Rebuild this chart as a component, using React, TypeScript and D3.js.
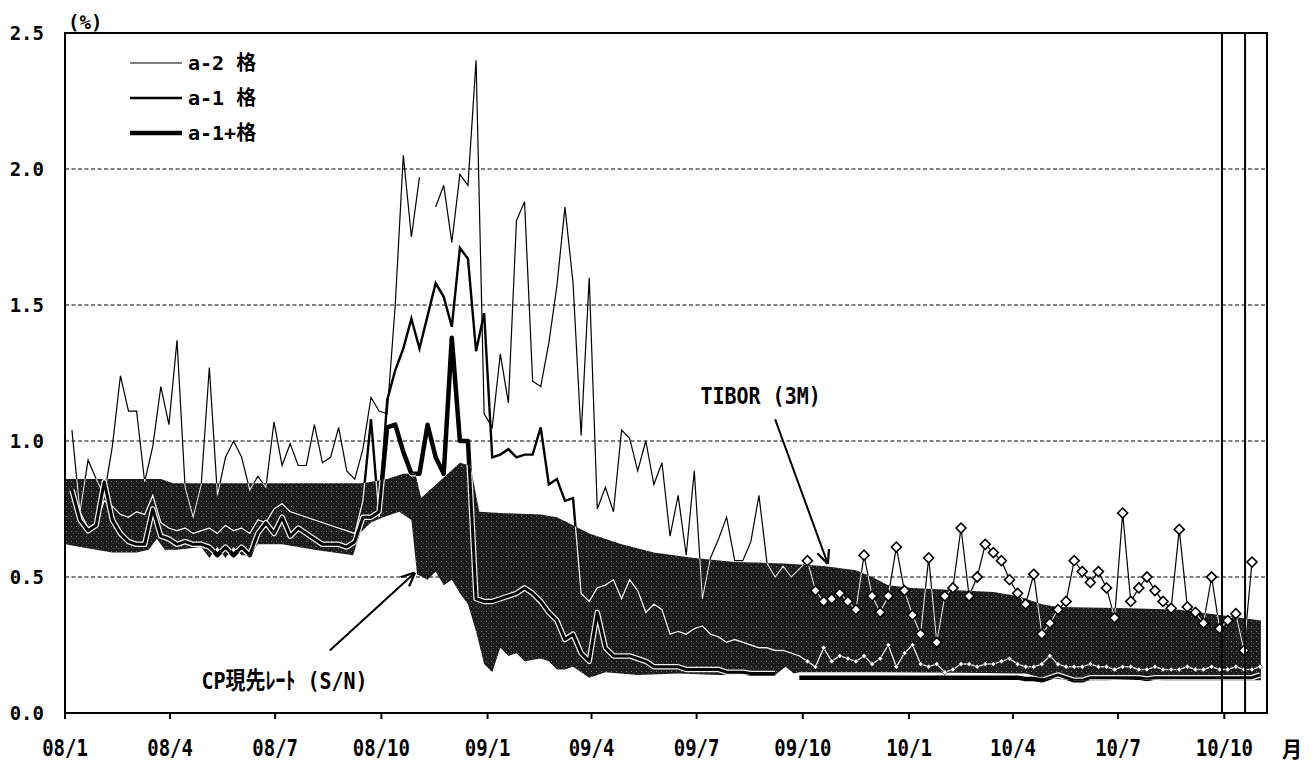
import React, { useEffect, useRef } from 'react';
import * as d3 from 'd3';

// weekly observations, first one on 2008-01-07
const firstWeek = new Date(2008, 0, 7);

const a2Values: (number | null)[] = [
  1.04, 0.74, 0.93, 0.86, 0.80, 0.98, 1.24, 1.11, 1.11, 0.85,
  0.98, 1.20, 1.06, 1.37, 0.83, 0.72, 0.84, 1.27, 0.80, 0.94,
  1.00, 0.94, 0.82, 0.87, 0.83, 1.07, 0.91, 0.99, 0.91, 0.91,
  1.06, 0.92, 0.94, 1.05, 0.89, 0.86, 0.97, 1.16, 1.11, 1.10,
  1.50, 2.05, 1.75, 1.97, null, 1.86, 1.94, 1.73, 1.98, 1.94,
  2.40, 1.10, 1.05, 1.32, 1.14, 1.81, 1.88, 1.22, 1.20, 1.36,
  1.57, 1.86, 1.58, 1.02, 1.60, 0.75, 0.83, 0.74, 1.04, 1.01,
  0.89, 1.00, 0.84, 0.92, 0.65, 0.80, 0.58, 0.89, 0.42, 0.57,
  0.64, 0.72, 0.56, 0.56, 0.63, 0.80, 0.55, 0.50, 0.54, 0.50,
  0.53, 0.56, 0.45, 0.41, 0.42, 0.44, 0.41, 0.38, 0.58, 0.43,
  0.37, 0.43, 0.61, 0.45, 0.36, 0.29, 0.57, 0.26, 0.43, 0.46,
  0.68, 0.43, 0.50, 0.62, 0.59, 0.56, 0.49, 0.44, 0.40, 0.51,
  0.29, 0.33, 0.38, 0.41, 0.56, 0.52, 0.48, 0.52, 0.46, 0.35,
  0.735, 0.41, 0.46, 0.50, 0.45, 0.41, 0.385, 0.675, 0.39, 0.37,
  0.33, 0.50, 0.31, 0.34, 0.365, 0.23, 0.555,
];

const a1Values: (number | null)[] = [
  0.80, 0.74, 0.68, 0.70, 0.78, 0.76, 0.73, 0.72, 0.74, 0.73,
  0.80, 0.70, 0.68, 0.67, 0.68, 0.66, 0.67, 0.68, 0.66, 0.69,
  0.67, 0.68, 0.66, 0.71, 0.70, 0.75, 0.77, 0.74, 0.73, 0.72,
  0.71, 0.70, 0.69, 0.68, 0.67, 0.66, 0.78, 1.08, 0.72, 1.15,
  1.26, 1.34, 1.45, 1.34, 1.46, 1.58, 1.53, 1.42, 1.71, 1.67,
  1.33, 1.47, 0.94, 0.95, 0.97, 0.94, 0.95, 0.95, 1.05, 0.84,
  0.86, 0.78, 0.79, 0.44, 0.41, 0.46, 0.47, 0.49, 0.42, 0.49,
  0.45, 0.37, 0.40, 0.38, 0.29, 0.30, 0.29, 0.31, 0.32, 0.29,
  0.28, 0.26, 0.27, 0.26, 0.25, 0.24, 0.24, 0.23, 0.23, 0.22,
  0.21, 0.19, 0.17, 0.24, 0.19, 0.21, 0.20, 0.19, 0.21, 0.18,
  0.20, 0.25, 0.17, 0.22, 0.25, 0.18, 0.17, 0.18, 0.15, 0.16,
  0.18, 0.18, 0.17, 0.18, 0.18, 0.19, 0.20, 0.18, 0.17, 0.17,
  0.18, 0.21, 0.18, 0.17, 0.17, 0.17, 0.18, 0.17, 0.17, 0.16,
  0.17, 0.17, 0.16, 0.16, 0.17, 0.16, 0.16, 0.16, 0.17, 0.16,
  0.16, 0.17, 0.16, 0.16, 0.17, 0.16, 0.16, 0.17,
];

const a1PlusValues: (number | null)[] = [
  0.82, 0.71, 0.67, 0.69, 0.85, 0.71, 0.66, 0.63, 0.62, 0.62,
  0.75, 0.65, 0.64, 0.62, 0.63, 0.62, 0.62, 0.61, 0.58, 0.61,
  0.58, 0.61, 0.58, 0.66, 0.70, 0.66, 0.72, 0.65, 0.68, 0.66,
  0.64, 0.62, 0.62, 0.62, 0.61, 0.63, 0.72, 0.72, 0.74, 1.05,
  1.06, 0.96, 0.88, 0.88, 1.06, 0.94, 0.88, 1.38, 1.00, 1.00,
  0.42, 0.41, 0.41, 0.42, 0.43, 0.44, 0.46, 0.44, 0.41, 0.37,
  0.34, 0.27, 0.29, 0.22, 0.19, 0.37, 0.24, 0.21, 0.21, 0.21,
  0.20, 0.19, 0.17, 0.17, 0.17, 0.17, 0.16, 0.16, 0.16, 0.16,
  0.16, 0.15, 0.15, 0.15, 0.145, 0.145, 0.145, 0.145, null, null,
  0.13, 0.13, 0.13, 0.13, 0.13, 0.13, 0.13, 0.13, 0.13, 0.13,
  0.13, 0.13, 0.13, 0.13, 0.13, 0.13, 0.13, 0.13, 0.13, 0.13,
  0.13, 0.13, 0.13, 0.13, 0.13, 0.13, 0.13, 0.13, 0.125, 0.125,
  0.12, 0.13, 0.14, 0.13, 0.12, 0.12, 0.13, 0.13, 0.13, 0.13,
  0.13, 0.13, 0.13, 0.125, 0.13, 0.13, 0.13, 0.13, 0.13, 0.13,
  0.13, 0.13, 0.13, 0.13, 0.13, 0.13, 0.13, 0.14,
];

// band edges: [week, value]
const tiborEdge: [number, number][] = [
  [-0.8, 0.86], [11, 0.86], [12.5, 0.845], [36, 0.845], [39, 0.86], [41, 0.88],
  [42.5, 0.88], [43.2, 0.79], [48, 0.92], [49.3, 0.91], [50.4, 0.74], [53, 0.735],
  [58, 0.73], [60, 0.72], [62, 0.69], [64, 0.66], [68, 0.62], [72, 0.59],
  [77, 0.57], [82, 0.555], [88, 0.55], [93, 0.54], [97, 0.525], [99, 0.50],
  [101, 0.47], [104, 0.46], [114, 0.445], [117, 0.43], [120, 0.40], [122, 0.39],
  [131, 0.385], [137, 0.38], [142, 0.36], [147.1, 0.34],
];

const cpEdge: [number, number][] = [
  [-0.8, 0.62], [1, 0.61], [3, 0.60], [5, 0.59], [8, 0.59], [9.5, 0.60],
  [10.5, 0.64], [11.5, 0.60], [13, 0.60], [16, 0.61], [17, 0.57], [18, 0.61],
  [19, 0.57], [20, 0.61], [21, 0.58], [22, 0.58], [23, 0.62], [26, 0.62],
  [30, 0.60], [34.8, 0.58], [35.6, 0.66], [37, 0.70], [38.5, 0.72], [40.5, 0.74],
  [42, 0.71], [42.7, 0.51], [44, 0.49], [45, 0.52], [46, 0.47], [47, 0.49],
  [48, 0.44], [49, 0.40], [50, 0.30], [51, 0.18], [52, 0.15], [53, 0.24],
  [54, 0.21], [55, 0.22], [56, 0.19], [58, 0.20], [59, 0.19], [60, 0.16],
  [61, 0.16], [62, 0.17], [63, 0.15], [64, 0.13], [66, 0.15], [70, 0.14],
  [75, 0.145], [80, 0.14], [85, 0.14], [87, 0.14], [88.3, 0.17], [89.3, 0.145],
  [90, 0.15], [100, 0.15], [110, 0.148], [118, 0.145], [120, 0.13], [124, 0.12],
  [128, 0.12], [132, 0.125], [135, 0.12], [140, 0.12], [147.1, 0.12],
];

const markerStartWeek = 91;
const eventDates = [new Date(2010, 8, 29), new Date(2010, 9, 19)];
const yTicks = [0, 0.5, 1.0, 1.5, 2.0, 2.5];
const gridValues = [0.5, 1.0, 1.5, 2.0];
const legendItems = [
  { label: 'a-2 格', width: 1.2 },
  { label: 'a-1 格', width: 2.4 },
  { label: 'a-1+格', width: 4.5 },
];

const FONT = "'DejaVu Sans Mono', 'Noto Sans CJK JP', monospace";

const weekDate = (w: number) => new Date(firstWeek.getTime() + w * 7 * 86400000);

const App: React.FC = () => {
  const ref = useRef<SVGSVGElement | null>(null);

  useEffect(() => {
    if (!ref.current) return;
    const svg = d3.select(ref.current);
    svg.selectAll('*').remove();

    const left = 65, right = 1267, top = 33, bottom = 713;
    const x = d3.scaleTime().domain([new Date(2008, 0, 1), new Date(2010, 10, 7)]).range([left, right]);
    const y = d3.scaleLinear().domain([0, 2.5]).range([bottom, top]);

    const toPts = (vals: (number | null)[]) => vals.map((v, i) => ({ d: weekDate(i), v, i }));
    const a2 = toPts(a2Values);
    const a1 = toPts(a1Values);
    const a1p = toPts(a1PlusValues);

    const line = d3.line<any>()
      .defined((p: any) => p.v != null)
      .x((p: any) => x(p.d))
      .y((p: any) => y(p.v));

    const edgeLine = d3.line<[number, number]>()
      .x((p) => x(weekDate(p[0])))
      .y((p) => y(p[1]));
    const bandPath = edgeLine([...tiborEdge, ...cpEdge.slice().reverse()]) + 'Z';

    const defs = svg.append('defs');
    defs.append('clipPath').attr('id', 'bandClip').append('path').attr('d', bandPath);

    // speckled fill like the printed screen tone
    const pat = defs.append('pattern')
      .attr('id', 'tone')
      .attr('width', 5).attr('height', 5)
      .attr('patternUnits', 'userSpaceOnUse');
    pat.append('rect').attr('width', 5).attr('height', 5).attr('fill', '#1c1c1c');
    pat.append('rect').attr('x', 1).attr('y', 1).attr('width', 1).attr('height', 1).attr('fill', '#7a7a7a');
    pat.append('rect').attr('x', 3).attr('y', 3).attr('width', 1).attr('height', 1).attr('fill', '#555');

    defs.append('marker')
      .attr('id', 'arrow')
      .attr('viewBox', '0 0 10 10')
      .attr('refX', 9.5).attr('refY', 5)
      .attr('markerWidth', 14).attr('markerHeight', 14)
      .attr('markerUnits', 'userSpaceOnUse')
      .attr('orient', 'auto')
      .append('path')
      .attr('d', 'M0,0.5 L10,5 L0,9.5')
      .attr('fill', 'none')
      .attr('stroke', '#000')
      .attr('stroke-width', 1.6);

    // dashed grid
    svg.append('g').selectAll('line')
      .data(gridValues)
      .enter().append('line')
      .attr('x1', left).attr('x2', right)
      .attr('y1', (d) => y(d)).attr('y2', (d) => y(d))
      .attr('stroke', '#000')
      .attr('stroke-width', 1)
      .attr('stroke-dasharray', '4,2.5');

    // TIBOR - CP band
    svg.append('path').attr('d', bandPath).attr('fill', 'url(#tone)');

    // series in black
    svg.append('path').attr('d', line(a2) as string).attr('fill', 'none').attr('stroke', '#000').attr('stroke-width', 1.2);
    svg.append('path').attr('d', line(a1) as string).attr('fill', 'none').attr('stroke', '#000').attr('stroke-width', 2.4);
    svg.append('path').attr('d', line(a1p) as string).attr('fill', 'none').attr('stroke', '#000').attr('stroke-width', 4.5).attr('stroke-linejoin', 'round');

    // inside the band the lines show up white
    const inBand = svg.append('g').attr('clip-path', 'url(#bandClip)');
    inBand.append('path').attr('d', line(a2) as string).attr('fill', 'none').attr('stroke', '#e8e8e8').attr('stroke-width', 1.1);
    inBand.append('path').attr('d', line(a1) as string).attr('fill', 'none').attr('stroke', '#f0f0f0').attr('stroke-width', 1.4);
    inBand.append('path').attr('d', line(a1p) as string).attr('fill', 'none').attr('stroke', '#f0f0f0').attr('stroke-width', 5.5).attr('stroke-linejoin', 'round');
    inBand.append('path').attr('d', line(a1p) as string).attr('fill', 'none').attr('stroke', '#000').attr('stroke-width', 3).attr('stroke-linejoin', 'round');

    // markers in the last part
    const bigDiamond = d3.symbol().type(d3.symbolSquare).size(50)();
    const smallDiamond = d3.symbol().type(d3.symbolSquare).size(14)();
    const addMarkers = (pts: any[], path: string | null, sw: number) => {
      svg.append('g').selectAll('path')
        .data(pts.filter((p) => p.i >= markerStartWeek && p.v != null))
        .enter().append('path')
        .attr('d', path)
        .attr('transform', (p: any) => `translate(${x(p.d)},${y(p.v)}) rotate(45)`)
        .attr('fill', '#fff')
        .attr('stroke', '#000')
        .attr('stroke-width', sw);
    };
    addMarkers(a1, smallDiamond, 0.6);
    addMarkers(a2, bigDiamond, 1.6);

    // event lines
    svg.append('g').selectAll('line')
      .data(eventDates)
      .enter().append('line')
      .attr('x1', (d) => x(d)).attr('x2', (d) => x(d))
      .attr('y1', top).attr('y2', bottom)
      .attr('stroke', '#000').attr('stroke-width', 2);

    // frame
    svg.append('rect')
      .attr('x', left).attr('y', top)
      .attr('width', right - left).attr('height', bottom - top)
      .attr('fill', 'none').attr('stroke', '#000').attr('stroke-width', 2);

    // x axis
    const xTicks = d3.timeMonth.every(3)!.range(new Date(2008, 0, 1), new Date(2010, 10, 1));
    const xAxis = svg.append('g');
    xAxis.selectAll('line')
      .data(xTicks)
      .enter().append('line')
      .attr('x1', (d) => x(d)).attr('x2', (d) => x(d))
      .attr('y1', bottom).attr('y2', bottom + 6)
      .attr('stroke', '#000').attr('stroke-width', 2);
    xAxis.selectAll('text')
      .data(xTicks)
      .enter().append('text')
      .attr('transform', (d) => `translate(${x(d)},${bottom + 43}) scale(0.95,1.18)`)
      .attr('text-anchor', 'middle')
      .style('font-family', FONT)
      .style('font-size', '20px')
      .style('font-weight', 'bold')
      .text((d) => d3.timeFormat('%y/')(d) + (d.getMonth() + 1));

    svg.append('text')
      .attr('transform', `translate(1282,${bottom + 44}) scale(1,1.1)`)
      .style('font-family', FONT).style('font-size', '20px').style('font-weight', 'bold')
      .text('月');

    // y axis labels
    svg.append('g').selectAll('text')
      .data(yTicks)
      .enter().append('text')
      .attr('x', 44)
      .attr('y', (d) => y(d) + 7)
      .attr('text-anchor', 'end')
      .style('font-family', FONT)
      .style('font-size', '19px')
      .style('font-weight', 'bold')
      .text((d) => d3.format('.1f')(d));

    svg.append('text')
      .attr('x', 68).attr('y', 29)
      .style('font-family', FONT).style('font-size', '19px').style('font-weight', 'bold')
      .text('(%)');

    // legend
    const legend = svg.append('g');
    legendItems.forEach((item, i) => {
      const ly = 63 + i * 35;
      legend.append('line')
        .attr('x1', 130).attr('x2', 182)
        .attr('y1', ly).attr('y2', ly)
        .attr('stroke', '#000').attr('stroke-width', item.width);
      legend.append('text')
        .attr('x', 188).attr('y', ly + 7)
        .style('font-family', FONT).style('font-size', '20px').style('font-weight', 'bold')
        .text(item.label);
    });

    // annotations
    const note = (label: string, tw: number, tv: number, fromW: number, fromV: number, toW: number, toV: number) => {
      svg.append('text')
        .attr('transform', `translate(${x(weekDate(tw))},${y(tv) + 8}) scale(1,1.18)`)
        .attr('text-anchor', 'middle')
        .style('font-family', FONT).style('font-size', '20px').style('font-weight', 'bold')
        .text(label);
      svg.append('line')
        .attr('x1', x(weekDate(fromW))).attr('y1', y(fromV))
        .attr('x2', x(weekDate(toW))).attr('y2', y(toV))
        .attr('stroke', '#000').attr('stroke-width', 2)
        .attr('marker-end', 'url(#arrow)');
    };
    note('TIBOR (3M)', 85.2, 1.165, 87.0, 1.08, 93.5, 0.55);
    note('CP現先ﾚｰﾄ (S/N)', 26.3, 0.118, 31.9, 0.23, 42.4, 0.515);
  }, []);

  return (
    <svg
      ref={ref}
      width={1314}
      height={769}
      style={{ position: 'absolute', left: 0, top: 0, background: '#fff' }}
    />
  );
};

export default App;
